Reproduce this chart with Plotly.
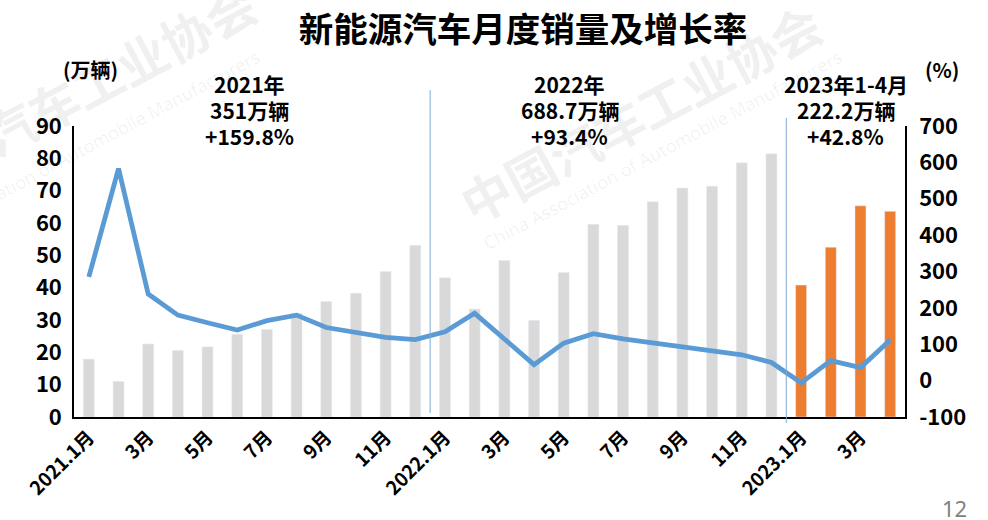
import plotly.graph_objects as go

months = ["2021.1月", "2月", "3月", "4月", "5月", "6月", "7月", "8月", "9月", "10月", "11月", "12月",
          "2022.1月", "2月", "3月", "4月", "5月", "6月", "7月", "8月", "9月", "10月", "11月", "12月",
          "2023.1月", "2月", "3月", "4月"]
sales = [17.9, 11.0, 22.6, 20.6, 21.7, 25.6, 27.1, 32.1, 35.7, 38.3, 45.0, 53.1,
         43.1, 33.4, 48.4, 29.9, 44.7, 59.6, 59.3, 66.6, 70.8, 71.4, 78.6, 81.4,
         40.8, 52.5, 65.3, 63.6]
growth = [285, 583, 238, 180, 159, 139, 165, 180, 146, 134, 119, 113,
          134, 185, 115, 44, 103, 129, 115, 104, 92, 84, 71, 50,
          -6, 55, 36, 112]
bar_colors = ["#D9D9D9"] * 24 + ["#ED7D31"] * 4
tick_idx = list(range(0, 28, 2))
tick_text = [months[i] for i in tick_idx]
left_ticks = list(range(0, 91, 10))
right_ticks = list(range(-100, 701, 100))
year_notes = [(["2021年", "351万辆", "+159.8%"], 5.4),
              (["2022年", "688.7万辆", "+93.4%"], 16.2),
              (["2023年1-4月", "222.2万辆", "+42.8%"], 25.5)]

FONT = "Noto Sans CJK SC"
# plot area in pixels: x 74..905, y 126..417
L, R, T, B = 74, 905, 126, 417


def px(xp):
    return (xp - L) / (R - L)


def py(yp):
    return (B - yp) / (B - T)


x = list(range(len(months)))

fig = go.Figure()
fig.add_trace(go.Bar(x=x, y=sales, marker_color=bar_colors, width=0.37, yaxis="y",
                     showlegend=False))
fig.add_trace(go.Scatter(x=x, y=growth, mode="lines", yaxis="y2",
                         line=dict(color="#5B9BD5", width=4.8), showlegend=False))

fig.update_layout(
    width=988, height=520,
    margin=dict(l=L, r=988 - R, t=T, b=520 - B),
    paper_bgcolor="white", plot_bgcolor="white",
    font=dict(family=FONT, color="black"),
    title=dict(text="<b>新能源汽车月度销量及增长率</b>", x=523 / 988, xanchor="center",
               y=1 - 30 / 520, yanchor="middle", font=dict(size=34.5, family=FONT, color="black")),
    xaxis=dict(range=[-0.5, 27.5], tickmode="array", tickvals=tick_idx,
               ticktext=[f"<b>{t}</b>" for t in tick_text], tickangle=-45,
               tickfont=dict(size=19, family=FONT), showline=True, linecolor="black",
               linewidth=1.5, showgrid=False, zeroline=False, ticks="", automargin=False),
    yaxis=dict(range=[0, 90], tickmode="array", tickvals=left_ticks,
               ticktext=[f"<b>{v}</b>" for v in left_ticks],
               tickfont=dict(size=22, family=FONT), showline=True, linecolor="black",
               linewidth=1.5, showgrid=False, zeroline=False, ticks="", ticklabelstandoff=6,
               automargin=False),
    yaxis2=dict(range=[-100, 700], overlaying="y", side="right", tickmode="array",
                tickvals=right_ticks,
                ticktext=[f"<b>{v}</b>" for v in right_ticks],
                tickfont=dict(size=22, family=FONT), showline=True, linecolor="black",
                linewidth=1.5, showgrid=False, zeroline=False, ticks="", ticklabelstandoff=8,
                automargin=False),
)

# faint watermark
wm = "rgba(0,0,0,0.06)"
for cx, cy, ex, ey in [(640, 112, 662, 150), (75, 92, 80, 150)]:
    fig.add_annotation(text="<b>中国汽车工业协会</b>", xref="paper", yref="paper", x=px(cx), y=py(cy),
                       xanchor="center", yanchor="middle", textangle=-28, showarrow=False,
                       font=dict(size=50, family=FONT, color=wm))
    fig.add_annotation(text="China Association of Automobile Manufacturers", xref="paper",
                       yref="paper", x=px(ex), y=py(ey), xanchor="center", yanchor="middle",
                       textangle=-28, showarrow=False,
                       font=dict(size=18, family="Noto Sans", color=wm))

# separators between years
fig.add_shape(type="line", xref="x", yref="paper", x0=11.5, x1=11.5, y0=py(413), y1=py(90),
              line=dict(color="#7FA9CF", width=1))
fig.add_shape(type="line", xref="x", yref="paper", x0=23.5, x1=23.5, y0=py(423), y1=py(118),
              line=dict(color="#7FA9CF", width=1))

line_y = [84, 110, 136]
for lines, xc in year_notes:
    for txt, yy in zip(lines, line_y):
        fig.add_annotation(text=f"<b>{txt}</b>", x=xc, xref="x", y=py(yy), yref="paper",
                           yanchor="middle", xanchor="center", showarrow=False,
                           font=dict(size=21, family=FONT, color="black"))

fig.add_annotation(text="<b>(万辆)</b>", xref="paper", yref="paper", x=px(90), y=py(69),
                   xanchor="center", yanchor="middle", showarrow=False,
                   font=dict(size=20, family=FONT))
fig.add_annotation(text="<b>(%)</b>", xref="paper", yref="paper", x=px(942), y=py(69),
                   xanchor="center", yanchor="middle", showarrow=False,
                   font=dict(size=20, family=FONT))
fig.add_annotation(text="12", xref="paper", yref="paper", x=px(955), y=py(508),
                   xanchor="center", yanchor="middle", showarrow=False,
                   font=dict(size=22, family="Noto Sans", color="#808080"))

fig.write_html("out.html", config={"displayModeBar": False},
               post_script="document.body.style.margin='0';document.body.style.overflow='hidden';")
